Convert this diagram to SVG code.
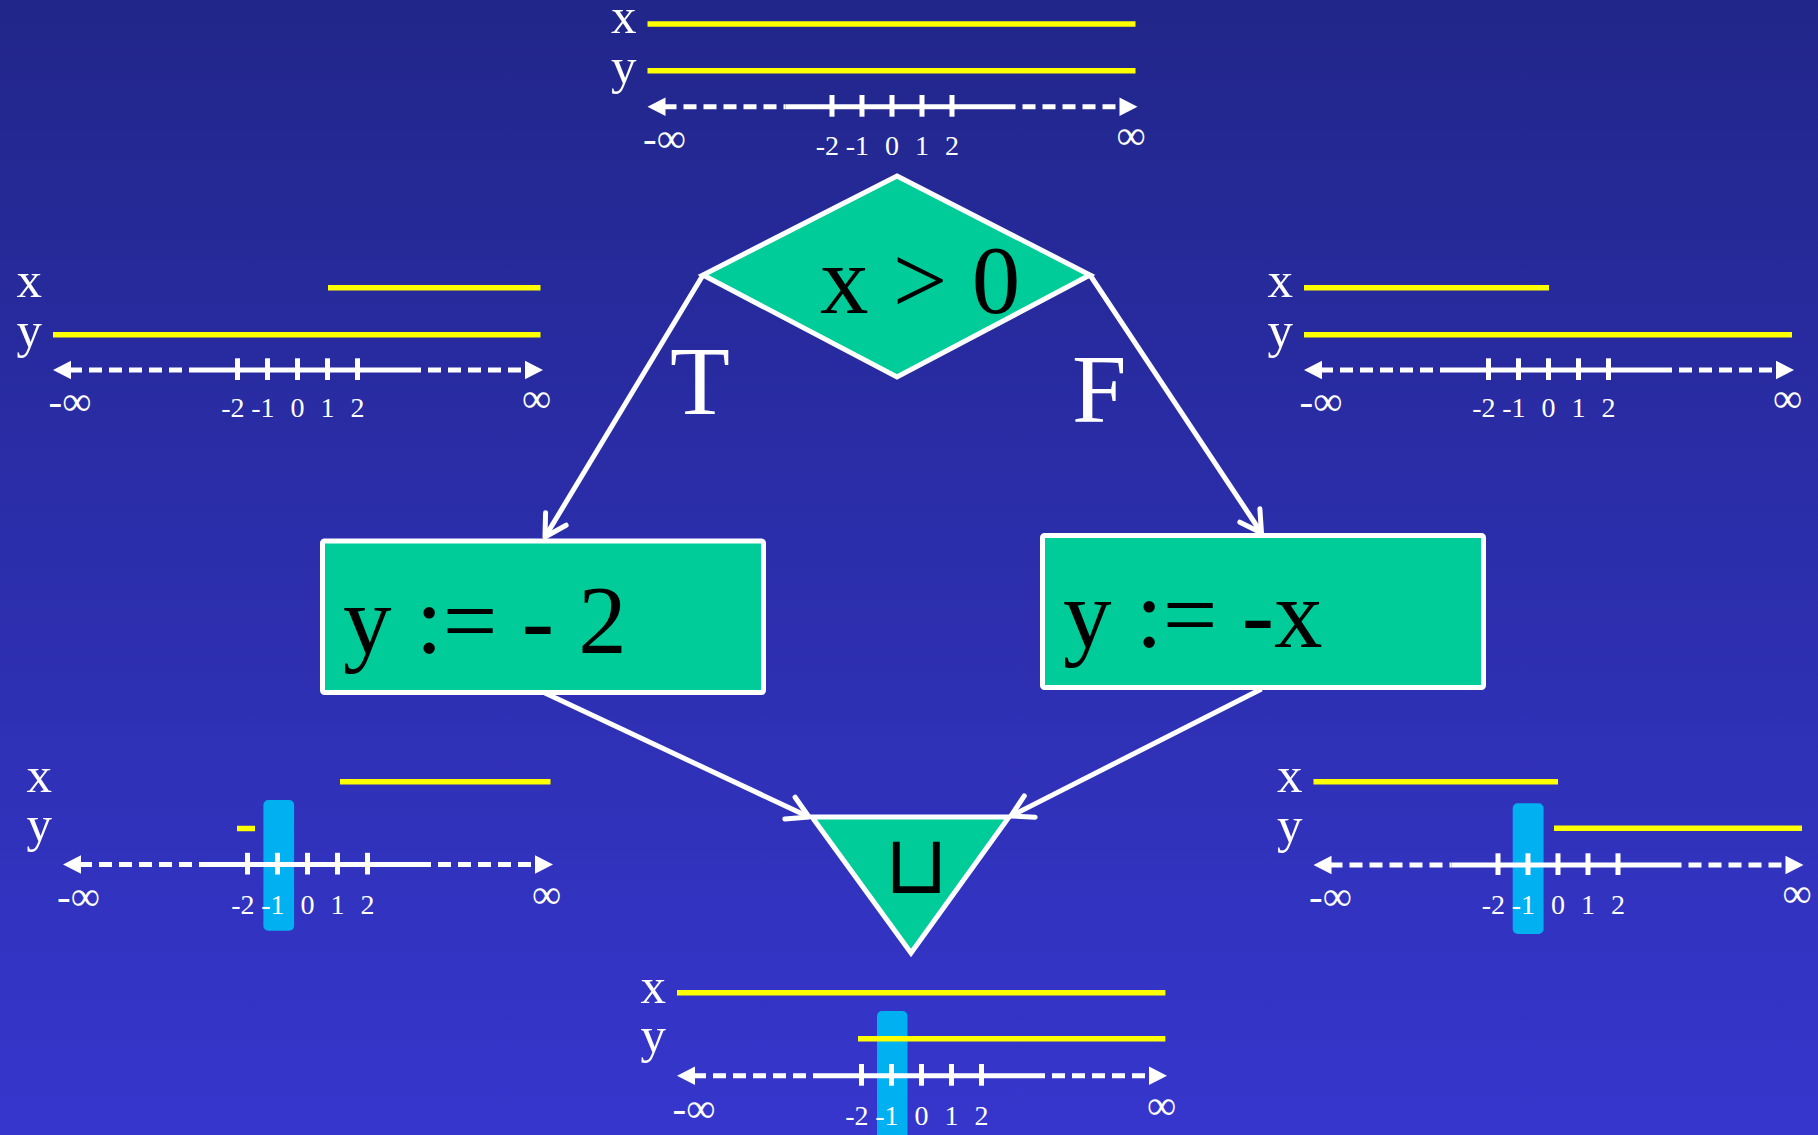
<svg xmlns="http://www.w3.org/2000/svg" width="1818" height="1135" viewBox="0 0 1818 1135">
<defs>
<linearGradient id="bg" x1="0" y1="0" x2="0" y2="1">
<stop offset="0" stop-color="#21268A"/>
<stop offset="1" stop-color="#3636CD"/>
</linearGradient>
<marker id="arr" markerUnits="userSpaceOnUse" orient="auto" refX="0" refY="0" overflow="visible" markerWidth="30" markerHeight="30">
<path d="M-21,-12 L0,0 L-21,12" fill="none" stroke="#fff" stroke-width="5" stroke-linecap="round" stroke-linejoin="round"/>
</marker>
<g id="axis">
<path d="M0,0 L18,-9.2 L18,9.2 Z" fill="#fff"/>
<path d="M490,0 L472,-9.2 L472,9.2 Z" fill="#fff"/>
<line class="ax dash" x1="16" y1="0" x2="138" y2="0"/>
<line class="ax" x1="138" y1="0" x2="368" y2="0"/>
<line class="ax dash" x1="375" y1="0" x2="474" y2="0"/>
<line class="ax" x1="184.5" y1="-11.7" x2="184.5" y2="10"/>
<line class="ax" x1="214.5" y1="-11.7" x2="214.5" y2="10"/>
<line class="ax" x1="244.5" y1="-11.7" x2="244.5" y2="10"/>
<line class="ax" x1="274.5" y1="-11.7" x2="274.5" y2="10"/>
<line class="ax" x1="304.5" y1="-11.7" x2="304.5" y2="10"/>
</g>
</defs>
<style>
.ax{stroke:#fff;stroke-width:5;fill:none}
.dash{stroke-dasharray:13 7}
.yel{stroke:#FFFF00;stroke-width:5.5;fill:none}
.cyan{fill:#00B0F0}
.lbl{font-family:"Liberation Serif","Times New Roman",serif;fill:#fff;font-size:51px}
.num{font-family:"Liberation Serif","Times New Roman",serif;fill:#fff;font-size:28px}
.inf{font-family:"Liberation Serif","Times New Roman",serif;fill:#fff;font-size:41px}
.big{font-family:"Liberation Serif","Times New Roman",serif;fill:#000;font-size:97px}
.tf{font-family:"Liberation Serif","Times New Roman",serif;fill:#fff;font-size:98px}
.node{fill:#00CC99;stroke:#fff;stroke-width:5}
.conn{stroke:#fff;stroke-width:5;fill:none;marker-end:url(#arr)}
</style>
<rect width="1818" height="1135" fill="url(#bg)"/>

<g id="panel-top" transform="translate(647.5,106.7)">
<line class="yel" x1="0" y1="-82.7" x2="488" y2="-82.7"/>
<line class="yel" x1="0" y1="-36" x2="488" y2="-36"/>
<use href="#axis"/>
<text class="lbl" x="-36.5" y="-73.4">x</text>
<text class="lbl" x="-36.5" y="-23.4">y</text>
<text class="inf" x="-4.5" y="45">-∞</text>
<text class="inf" x="469" y="42">∞</text>
<text class="num" x="191.5" y="48.3" text-anchor="end">-2</text>
<text class="num" x="221.5" y="48.3" text-anchor="end">-1</text>
<text class="num" x="244.5" y="48.3" text-anchor="middle">0</text>
<text class="num" x="274.5" y="48.3" text-anchor="middle">1</text>
<text class="num" x="304.5" y="48.3" text-anchor="middle">2</text>
</g>

<g id="panel-left" transform="translate(53,370)">
<line class="yel" x1="275" y1="-82.3" x2="487.5" y2="-82.3"/>
<line class="yel" x1="0" y1="-35.3" x2="487.5" y2="-35.3"/>
<use href="#axis"/>
<text class="lbl" x="-36.5" y="-73.3">x</text>
<text class="lbl" x="-36.5" y="-23.4">y</text>
<text class="inf" x="-4.5" y="45">-∞</text>
<text class="inf" x="469" y="42">∞</text>
<text class="num" x="191.5" y="47" text-anchor="end">-2</text>
<text class="num" x="221.5" y="47" text-anchor="end">-1</text>
<text class="num" x="244.5" y="47" text-anchor="middle">0</text>
<text class="num" x="274.5" y="47" text-anchor="middle">1</text>
<text class="num" x="304.5" y="47" text-anchor="middle">2</text>
</g>

<g id="panel-right" transform="translate(1304,370)">
<line class="yel" x1="0" y1="-82.3" x2="245" y2="-82.3"/>
<line class="yel" x1="0" y1="-35.3" x2="488" y2="-35.3"/>
<use href="#axis"/>
<text class="lbl" x="-36.5" y="-73.3">x</text>
<text class="lbl" x="-36.5" y="-23.4">y</text>
<text class="inf" x="-4.5" y="45">-∞</text>
<text class="inf" x="469" y="42">∞</text>
<text class="num" x="191.5" y="47" text-anchor="end">-2</text>
<text class="num" x="221.5" y="47" text-anchor="end">-1</text>
<text class="num" x="244.5" y="47" text-anchor="middle">0</text>
<text class="num" x="274.5" y="47" text-anchor="middle">1</text>
<text class="num" x="304.5" y="47" text-anchor="middle">2</text>
</g>

<g id="panel-bottom-left" transform="translate(63,864.5)">
<rect class="cyan" x="200.4" y="-64.5" width="30.7" height="130.7" rx="5"/>
<line class="yel" x1="277" y1="-82.7" x2="487.5" y2="-82.7"/>
<line class="yel" x1="174" y1="-36" x2="192" y2="-36"/>
<use href="#axis"/>
<text class="lbl" x="-36.5" y="-72.2">x</text>
<text class="lbl" x="-36.5" y="-23.4">y</text>
<text class="inf" x="-6" y="45.5">-∞</text>
<text class="inf" x="469" y="43">∞</text>
<text class="num" x="191.5" y="49.5" text-anchor="end">-2</text>
<text class="num" x="221.5" y="49.5" text-anchor="end">-1</text>
<text class="num" x="244.5" y="49.5" text-anchor="middle">0</text>
<text class="num" x="274.5" y="49.5" text-anchor="middle">1</text>
<text class="num" x="304.5" y="49.5" text-anchor="middle">2</text>
</g>

<g id="panel-bottom-right" transform="translate(1313.5,865)">
<rect class="cyan" x="199.2" y="-61.7" width="30.9" height="130.7" rx="5"/>
<line class="yel" x1="0" y1="-83.3" x2="244.5" y2="-83.3"/>
<line class="yel" x1="240.5" y1="-36.7" x2="488.5" y2="-36.7"/>
<use href="#axis"/>
<text class="lbl" x="-36.5" y="-73">x</text>
<text class="lbl" x="-36.5" y="-23.4">y</text>
<text class="inf" x="-4.5" y="45">-∞</text>
<text class="inf" x="469" y="42">∞</text>
<text class="num" x="191.5" y="48.5" text-anchor="end">-2</text>
<text class="num" x="221.5" y="48.5" text-anchor="end">-1</text>
<text class="num" x="244.5" y="48.5" text-anchor="middle">0</text>
<text class="num" x="274.5" y="48.5" text-anchor="middle">1</text>
<text class="num" x="304.5" y="48.5" text-anchor="middle">2</text>
</g>

<g id="panel-bottom" transform="translate(677,1075.7)">
<rect class="cyan" x="200" y="-64.7" width="30.5" height="130" rx="5"/>
<line class="yel" x1="0" y1="-83" x2="488.4" y2="-83"/>
<line class="yel" x1="181" y1="-37" x2="488.4" y2="-37"/>
<use href="#axis"/>
<text class="lbl" x="-36.5" y="-72.4">x</text>
<text class="lbl" x="-36.5" y="-23.4">y</text>
<text class="inf" x="-4.5" y="46">-∞</text>
<text class="inf" x="470" y="43">∞</text>
<text class="num" x="191.5" y="49.3" text-anchor="end">-2</text>
<text class="num" x="221.5" y="49.3" text-anchor="end">-1</text>
<text class="num" x="244.5" y="49.3" text-anchor="middle">0</text>
<text class="num" x="274.5" y="49.3" text-anchor="middle">1</text>
<text class="num" x="304.5" y="49.3" text-anchor="middle">2</text>
</g>

<g id="connectors">
<line class="conn" x1="703" y1="275" x2="545" y2="537"/>
<line class="conn" x1="1090" y1="275" x2="1261.5" y2="533"/>
<line class="conn" x1="545" y1="693" x2="809" y2="817"/>
<line class="conn" x1="1261.5" y1="689" x2="1011" y2="816"/>
<text class="tf" x="670" y="414">T</text>
<text class="tf" x="1072" y="422">F</text>
</g>

<g id="cond">
<path class="node" d="M897,176 L1090,275 L897,377 L703,275 Z"/>
<text class="big" x="820" y="313">x &gt; 0</text>
</g>

<g id="assign-left">
<rect class="node" x="322.5" y="541" width="441" height="151.5" rx="2"/>
<text class="big" x="343" y="653">y := - 2</text>
</g>

<g id="assign-right">
<rect class="node" x="1042.5" y="535.5" width="441" height="152" rx="2"/>
<text class="big" x="1063" y="647">y := -x</text>
</g>

<g id="join">
<path class="node" d="M812,817 L1009,817 L911,953 Z"/>
<text x="916" y="893" text-anchor="middle" style="font-family:'DejaVu Sans',sans-serif;font-size:82px;fill:#000">⊔</text>
</g>
</svg>
